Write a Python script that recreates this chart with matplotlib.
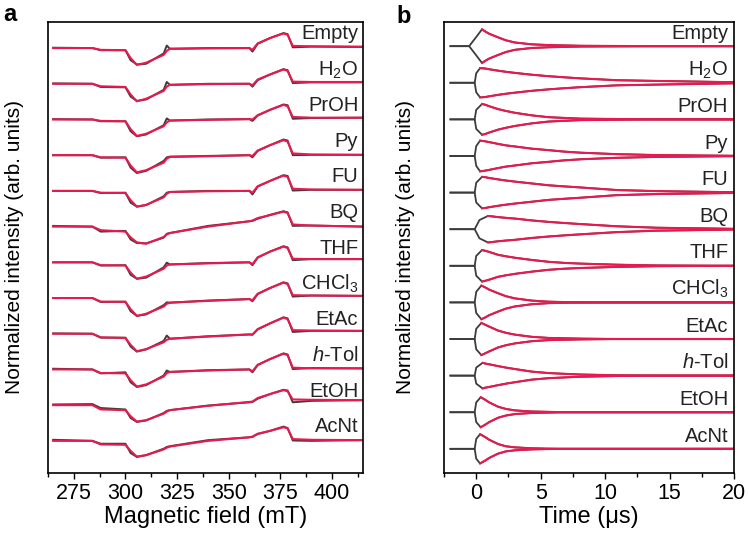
import matplotlib
matplotlib.use("Agg")
import matplotlib.pyplot as plt
import numpy as np

plt.rcParams['font.family'] = ['Liberation Sans', 'DejaVu Sans']
plt.rcParams['mathtext.fontset'] = 'custom'
plt.rcParams['mathtext.rm'] = 'Liberation Sans'
plt.rcParams['mathtext.it'] = 'Liberation Sans:italic'

GREY = '#3c3c3c'
RED = '#e8194f'

labels = ['Empty', 'H$_2$O', 'PrOH', 'Py', 'FU', 'BQ', 'THF',
          'CHCl$_3$', 'EtAc', '$h$-Tol', 'EtOH', 'AcNt']

# panel a: field knots (mT) and normalised EPR amplitude read per trace
field = [265, 284, 288, 300, 302.5, 305.5, 310, 318.5, 320, 321.5,
         340, 360, 361.5, 364, 370, 376.5, 378.5, 381, 390, 415]

epr_fit = [
    [0, 0, -0.05, -0.06, -0.28, -0.47, -0.41, -0.19, -0.08, -0.02, -0.01, 0.0, -0.05, 0.13, 0.28, 0.41, 0.37, 0.06, 0.05, 0.04],
    [0, 0, -0.07, -0.09, -0.30, -0.49, -0.42, -0.20, -0.08, -0.03, -0.01, 0.0, -0.04, 0.12, 0.26, 0.40, 0.36, 0.06, 0.05, 0.05],
    [0, 0, -0.04, -0.05, -0.27, -0.46, -0.40, -0.19, -0.08, -0.03, -0.01, 0.01, 0.0, 0.12, 0.27, 0.41, 0.37, 0.07, 0.05, 0.05],
    [0, 0, -0.06, -0.07, -0.29, -0.48, -0.42, -0.21, -0.10, -0.05, -0.03, 0.0, -0.02, 0.13, 0.28, 0.42, 0.38, 0.05, 0.02, 0.01],
    [0, 0, -0.05, -0.06, -0.26, -0.44, -0.39, -0.18, -0.08, -0.03, -0.01, 0.0, -0.05, 0.13, 0.28, 0.43, 0.39, 0.06, 0.04, 0.03],
    [0, 0, -0.10, -0.14, -0.30, -0.44, -0.48, -0.29, -0.22, -0.18, 0.0, 0.15, 0.17, 0.24, 0.32, 0.42, 0.38, 0.06, 0.03, 0.0],
    [0, 0, -0.08, -0.09, -0.29, -0.46, -0.40, -0.18, -0.09, -0.06, -0.03, 0.0, -0.05, 0.14, 0.30, 0.44, 0.40, 0.10, 0.09, 0.09],
    [0, 0, -0.10, -0.11, -0.31, -0.50, -0.44, -0.24, -0.16, -0.13, -0.08, -0.03, -0.06, 0.12, 0.28, 0.43, 0.39, 0.08, 0.07, 0.06],
    [0, 0, -0.10, -0.12, -0.31, -0.49, -0.43, -0.24, -0.17, -0.14, -0.08, -0.02, -0.02, 0.13, 0.29, 0.45, 0.41, 0.10, 0.09, 0.08],
    [0, 0, -0.10, -0.11, -0.30, -0.48, -0.42, -0.20, -0.10, -0.07, -0.03, 0.0, -0.05, 0.13, 0.29, 0.44, 0.40, 0.05, 0.03, 0.03],
    [0, 0, -0.12, -0.14, -0.31, -0.46, -0.42, -0.24, -0.18, -0.14, -0.02, 0.09, 0.10, 0.20, 0.31, 0.42, 0.39, 0.16, 0.15, 0.14],
    [0, 0, -0.10, -0.11, -0.28, -0.44, -0.40, -0.24, -0.19, -0.16, 0.0, 0.10, 0.12, 0.20, 0.28, 0.38, 0.35, 0.05, 0.03, 0.02],
]

epr_raw = [
    [0.01, 0.0, -0.06, -0.06, -0.34, -0.46, -0.44, -0.15, 0.07, -0.02, 0.0, 0.0, -0.10, 0.12, 0.28, 0.42, 0.39, 0.02, 0.04, 0.03],
    [0.01, 0.0, -0.09, -0.10, -0.36, -0.48, -0.44, -0.17, 0.05, -0.03, 0.0, 0.0, -0.08, 0.10, 0.26, 0.41, 0.38, 0.02, 0.04, 0.04],
    [0.01, 0.0, -0.05, -0.05, -0.33, -0.47, -0.42, -0.16, 0.03, -0.03, 0.0, 0.01, -0.04, 0.11, 0.27, 0.42, 0.40, 0.02, 0.04, 0.05],
    [0.0, 0.0, -0.07, -0.06, -0.35, -0.50, -0.44, -0.16, -0.06, -0.04, -0.02, 0.0, -0.06, 0.12, 0.28, 0.44, 0.41, 0.0, 0.01, 0.01],
    [0.0, 0.0, -0.06, -0.05, -0.33, -0.44, -0.40, -0.15, -0.05, -0.03, 0.0, 0.0, -0.10, 0.12, 0.28, 0.44, 0.42, 0.01, 0.03, 0.03],
    [0.02, 0.0, -0.14, -0.12, -0.36, -0.46, -0.47, -0.31, -0.20, -0.18, 0.02, 0.15, 0.16, 0.22, 0.33, 0.43, 0.40, 0.02, 0.03, 0.0],
    [0.0, 0.0, -0.09, -0.08, -0.35, -0.46, -0.43, -0.14, -0.01, -0.06, -0.02, 0.0, -0.08, 0.13, 0.30, 0.45, 0.42, 0.06, 0.09, 0.09],
    [0.0, 0.0, -0.11, -0.10, -0.37, -0.50, -0.46, -0.20, -0.12, -0.13, -0.07, -0.03, -0.09, 0.11, 0.28, 0.44, 0.41, 0.04, 0.07, 0.06],
    [0.01, 0.0, -0.11, -0.11, -0.36, -0.50, -0.44, -0.20, -0.05, -0.14, -0.07, -0.02, -0.03, 0.12, 0.29, 0.46, 0.43, 0.05, 0.08, 0.08],
    [0.02, 0.0, -0.11, -0.08, -0.36, -0.49, -0.44, -0.17, -0.03, -0.07, -0.02, 0.0, -0.08, 0.12, 0.29, 0.45, 0.42, 0.01, 0.04, 0.03],
    [0.02, 0.03, -0.08, -0.12, -0.36, -0.47, -0.43, -0.22, -0.16, -0.14, -0.01, 0.08, 0.09, 0.18, 0.31, 0.43, 0.41, 0.08, 0.12, 0.14],
    [0.03, 0.0, -0.08, -0.08, -0.34, -0.45, -0.40, -0.22, -0.17, -0.15, 0.02, 0.10, 0.11, 0.19, 0.28, 0.40, 0.36, 0.01, 0.0, 0.02],
]

# panel b: upper branch of each transient (lower branch mirrors it)
split_t = [-0.55, -0.12, -0.12, -0.12, -0.12, -0.12, -0.12, -0.12, -0.12, -0.12, -0.12, -0.12]
rise_t = [0.0, 0.0, 0.0, 0.0, 0.0, 0.25, 0.0, 0.0, 0.0, 0.0, 0.0, 0.0]
rise_amp = [0.25, 0.26, 0.26, 0.27, 0.27, 0.25, 0.27, 0.29, 0.28, 0.22, 0.27, 0.27]
peak_t = [0.45, 0.3, 0.45, 0.3, 0.45, 0.9, 0.45, 0.4, 0.4, 0.5, 0.35, 0.3]
peak_amp = [0.46, 0.40, 0.42, 0.42, 0.43, 0.36, 0.43, 0.46, 0.44, 0.35, 0.41, 0.40]

decay_t = [0.7, 1.0, 1.7, 2.3, 3.0, 4.3, 5.6, 6.8, 8.1, 10.9, 14.0, 20.0]
decay_amp = [
    [0.40, 0.34, 0.24, 0.16, 0.10, 0.05, 0.03, 0.02, 0.01, 0.005, 0.0, 0.0],
    [0.39, 0.37, 0.33, 0.30, 0.27, 0.22, 0.18, 0.15, 0.12, 0.07, 0.05, 0.015],
    [0.40, 0.36, 0.28, 0.23, 0.18, 0.11, 0.06, 0.04, 0.02, 0.01, 0.0, 0.0],
    [0.40, 0.38, 0.33, 0.29, 0.26, 0.20, 0.16, 0.12, 0.09, 0.05, 0.025, 0.005],
    [0.42, 0.40, 0.36, 0.33, 0.30, 0.25, 0.20, 0.17, 0.14, 0.07, 0.04, 0.01],
    [0.36, 0.36, 0.33, 0.31, 0.29, 0.24, 0.20, 0.17, 0.14, 0.08, 0.04, 0.01],
    [0.41, 0.38, 0.30, 0.26, 0.22, 0.16, 0.11, 0.08, 0.06, 0.03, 0.01, 0.0],
    [0.41, 0.35, 0.25, 0.17, 0.11, 0.05, 0.02, 0.01, 0.005, 0.0, 0.0, 0.0],
    [0.39, 0.34, 0.23, 0.17, 0.12, 0.06, 0.03, 0.02, 0.01, 0.0, 0.0, 0.0],
    [0.33, 0.31, 0.26, 0.22, 0.18, 0.11, 0.07, 0.05, 0.03, 0.01, 0.0, 0.0],
    [0.34, 0.27, 0.15, 0.09, 0.05, 0.02, 0.01, 0.0, 0.0, 0.0, 0.0, 0.0],
    [0.32, 0.25, 0.13, 0.07, 0.04, 0.015, 0.005, 0.0, 0.0, 0.0, 0.0, 0.0],
]

fig = plt.figure(figsize=(7.49, 5.40), dpi=100)
axa = fig.add_axes([48/749, 67/540, 315/749, 451/540])
axb = fig.add_axes([444/749, 67/540, 290/749, 451/540])

for i, lab in enumerate(labels):
    off = -i
    axa.plot(field, np.array(epr_raw[i]) + off, color=GREY, lw=1.4)
    axa.plot(field, np.array(epr_fit[i]) + off, color=RED, lw=1.5)
    axa.text(0.985, off + 0.24, lab, transform=axa.get_yaxis_transform(),
             ha='right', va='baseline', fontsize=14.5, color='#222222')

    keep = [k for k, t in enumerate(decay_t) if t > peak_t[i]]
    dt = [decay_t[k] for k in keep]
    da = [decay_amp[i][k] for k in keep]
    t_raw = [-2.0, split_t[i], rise_t[i], peak_t[i]] + dt
    a_raw = np.array([0.0, 0.0, rise_amp[i], peak_amp[i]] + da)
    t_fit = [peak_t[i]] + dt
    a_fit = np.array([peak_amp[i]] + da)
    axb.plot(t_raw, a_raw + off, color=GREY, lw=1.3)
    axb.plot(t_raw, -a_raw + off, color=GREY, lw=1.3)
    axb.plot(t_fit, a_fit + off, color=RED, lw=1.5)
    axb.plot(t_fit, -a_fit + off, color=RED, lw=1.5)
    axb.text(0.98, off + 0.2, lab, transform=axb.get_yaxis_transform(),
             ha='right', va='baseline', fontsize=14.5, color='#222222')

axa.set_xlim(265, 415)
axa.set_ylim(-11.9, 0.73)
axa.set_xticks([275, 300, 325, 350, 375, 400])
axa.set_xticks(np.arange(262.5, 415, 12.5), minor=True)
axa.set_xlabel('Magnetic field (mT)', fontsize=17, labelpad=1)
axa.set_ylabel('Normalized intensity (arb. units)', fontsize=15)
axa.yaxis.set_label_coords(-0.075, 0.5)

axb.set_xlim(-2, 20)
axb.set_ylim(-11.66, 0.66)
axb.set_xticks([0, 5, 10, 15, 20])
axb.set_xticks([-2.5, 2.5, 7.5, 12.5, 17.5], minor=True)
axb.set_xlabel('Time (\u03bcs)', fontsize=17, labelpad=1)
axb.set_ylabel('Normalized intensity (arb. units)', fontsize=15)
axb.yaxis.set_label_coords(-0.1, 0.5)

for ax in (axa, axb):
    ax.set_yticks([])
    ax.tick_params(axis='x', which='both', direction='out', labelsize=15.5,
                   width=1.0, pad=3)
    ax.tick_params(axis='x', which='major', length=4.5)
    ax.tick_params(axis='x', which='minor', length=3)
    for sp in ax.spines.values():
        sp.set_linewidth(1.2)

fig.text(3/749, 1 - 21/540, 'a', fontsize=17, fontweight='bold')
fig.text(396/749, 1 - 23/540, 'b', fontsize=17, fontweight='bold')

fig.savefig('out.png', dpi=100)
